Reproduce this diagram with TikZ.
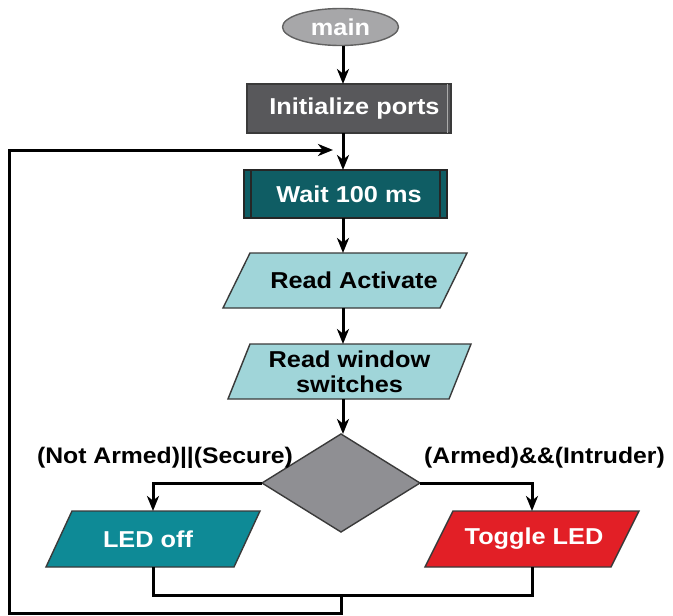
\documentclass[tikz,border=0pt]{standalone}
\usepackage{fontspec}
\setmainfont{Liberation Sans}[FakeStretch=1.1]
\usetikzlibrary{arrows.meta,shapes.geometric,backgrounds}

\definecolor{frame}{HTML}{3A3A3A}
\definecolor{startgray}{HTML}{A7A7A9}
\definecolor{initgray}{HTML}{58585B}
\definecolor{waitteal}{HTML}{0F5D64}
\definecolor{iocyan}{HTML}{A0D5D9}
\definecolor{decgray}{HTML}{8F8F93}
\definecolor{offteal}{HTML}{0E8A96}
\definecolor{togglered}{HTML}{E21F26}

% parallelogram drawn behind a named rectangular node: #1 node, #2 slant, #3 fill
\newcommand\ioshape[3]{%
  \path[fill=#3, draw=frame, line width=1.4pt]
    ([xshift=#2]#1.north west) -- (#1.north east)
    -- ([xshift=-#2]#1.south east) -- (#1.south west) -- cycle;}

\begin{document}
\begin{tikzpicture}[x=1pt, y=-1pt,
  every node/.style={font=\fontsize{23}{25}\selectfont\bfseries, inner sep=0pt, outer sep=0pt},
  every label/.style={font=\fontsize{23}{25}\selectfont\bfseries, inner sep=0pt},
  cond/.style={font=\fontsize{22.5}{25}\selectfont\bfseries, anchor=base},
  flow/.style={line width=3pt, -{Stealth[length=15pt, width=12pt, inset=4.5pt]}},
  wire/.style={line width=3pt},
  iobox/.style={draw=none, minimum height=55pt},
  procbox/.style={rectangle, line width=1.4pt, minimum height=49pt}]

\useasboundingbox (0,0) rectangle (673,616);

% spine of the main column
\coordinate (spine) at (343,0);

% start
\node[ellipse, draw=frame!80, fill=startgray, line width=1.4pt,
      minimum width=116pt, minimum height=37pt, text=white] (main) at (340.5,27) {main};

% initialisation block
\node[procbox, draw=frame, fill=initgray, minimum width=204pt,
      label={[xshift=5.5pt, text=white]center:Initialize ports}] (init) at (349,108.5) {};
\draw[gray!65, line width=1.4pt] ([xshift=-3.5pt]init.north east) -- ([xshift=-3.5pt]init.south east);

% delay subroutine (predefined process)
\node[procbox, draw=black!85, fill=waitteal, minimum width=203pt, minimum height=48pt,
      label={[xshift=3.5pt, text=white]center:Wait 100 ms}] (wait) at (345.5,194) {};
\draw[black!85, line width=1.4pt] ([xshift=7pt]wait.north west) -- ([xshift=7pt]wait.south west);
\draw[black!85, line width=1.4pt] ([xshift=-7pt]wait.north east) -- ([xshift=-7pt]wait.south east);

% inputs
\node[iobox, minimum width=244pt,
      label={[xshift=9pt]center:Read Activate}] (ra) at (345,280.5) {};
\node[iobox, minimum width=243pt,
      label={[align=center]center:Read window\\switches}] (rw) at (349.5,371.5) {};

% decision
\node[diamond, draw=frame, fill=decgray, line width=1.4pt,
      minimum width=158pt, minimum height=98pt] (dec) at (341,483) {};

% outputs
\node[iobox, minimum width=214pt, minimum height=56pt,
      label={[xshift=-5pt, text=white]center:LED off}] (ledoff) at (153,539) {};
\node[iobox, minimum width=214pt, minimum height=56pt,
      label={[xshift=2pt, text=white]center:Toggle LED}] (toggle) at (532,539) {};

\begin{scope}[on background layer]
  \ioshape{ra}{27pt}{iocyan}
  \ioshape{rw}{22pt}{iocyan}
  \ioshape{ledoff}{26pt}{offteal}
  \ioshape{toggle}{28pt}{togglered}
\end{scope}

% branch conditions
\node[cond] (condoff) at (165,463) {(Not Armed)||(Secure)};
\node[cond] (condon) at (544.5,463) {(Armed)\&\&(Intruder)};

% main column connectors
\draw[flow] (spine |- main.south) -- (spine |- init.north);
\draw[flow] (spine |- init.south) -- (spine |- wait.north);
\draw[flow] (spine |- wait.south) -- (spine |- ra.north);
\draw[flow] (spine |- ra.south) -- (spine |- rw.north);
\draw[flow] (spine |- rw.south) -- (spine |- dec.north);

% decision branches
\draw[flow] (dec.west) -| (ledoff.north);
\draw[flow] (dec.east) -| (toggle.north);

% merge and loop back
\coordinate (join) at (341,595);
\coordinate (corner) at (9,613);
\coordinate (loopin) at (333,150);
\draw[wire] (ledoff.south) -- (ledoff.south |- join) -- (toggle.south |- join) -- (toggle.south);
\draw[flow] (join) |- (corner) |- (loopin);

\end{tikzpicture}
\end{document}
